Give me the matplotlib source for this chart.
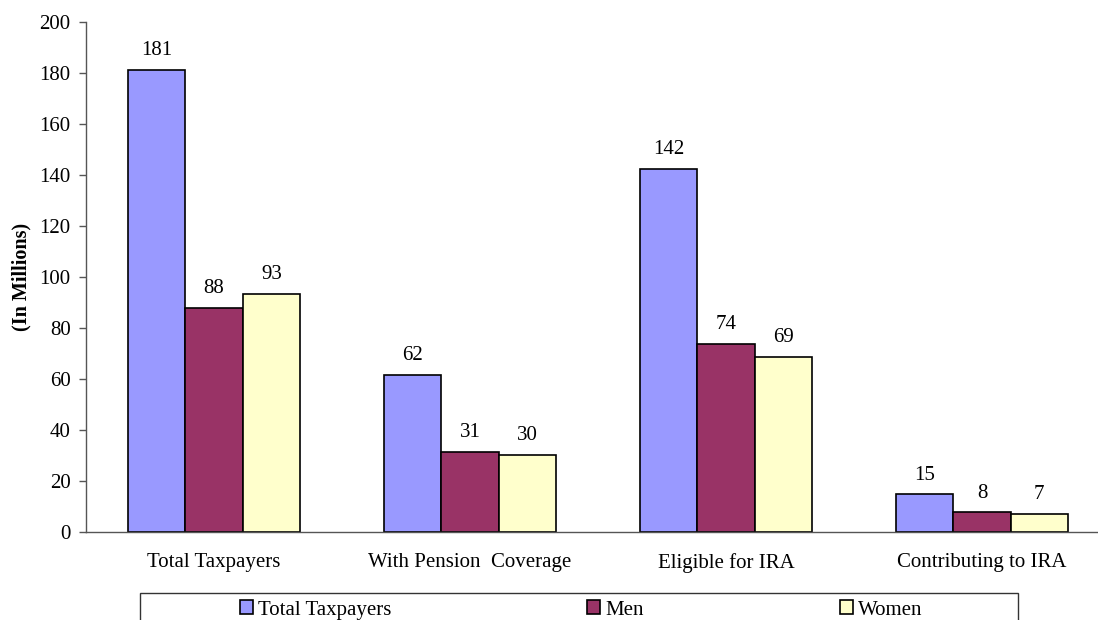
import matplotlib
matplotlib.use("Agg")
import matplotlib.pyplot as plt
from matplotlib.patches import Rectangle
import numpy as np

categories = ["Total Taxpayers", "With Pension  Coverage", "Eligible for IRA", "Contributing to IRA"]
series_names = ["Total Taxpayers", "Men", "Women"]
total = [181.2, 61.6, 142.3, 14.8]
men = [87.9, 31.4, 73.7, 7.7]
women = [93.3, 30.2, 68.8, 7.1]
labels_total = ["181", "62", "142", "15"]
labels_men = ["88", "31", "74", "8"]
labels_women = ["93", "30", "69", "7"]
yticks = [0, 20, 40, 60, 80, 100, 120, 140, 160, 180, 200]

colors = ["#9999FF", "#993366", "#FFFFCC"]

plt.rcParams['font.family'] = ['Liberation Serif', 'DejaVu Serif']
fs = 15

fig = plt.figure(figsize=(10.98, 6.2), dpi=100)
# category slots are 256 px wide; the axis runs off the right edge as in the reference
ax = fig.add_axes([86/1098, 1-532/620, 1024/1098, (532-22)/620])

x = np.arange(len(categories))
w = 0.224
data = [total, men, women]
labs = [labels_total, labels_men, labels_women]
for i, (vals, col, name, lb) in enumerate(zip(data, colors, series_names, labs)):
    bars = ax.bar(x + (i-1)*w, vals, width=w, color=col, edgecolor="black", linewidth=1.2, label=name, zorder=3)
    for b, t in zip(bars, lb):
        ax.annotate(t, (b.get_x()+b.get_width()/2, b.get_height()), xytext=(0, 7),
                    textcoords="offset points", ha="center", va="bottom", fontsize=fs)

ax.set_xlim(-0.5, 3.5)
ax.set_ylim(0, 200)
ax.set_yticks(yticks)
ax.set_yticklabels([str(t) for t in yticks], fontsize=fs)
ax.set_xticks(x)
ax.set_xticklabels(categories, fontsize=fs)
ax.tick_params(axis="x", length=0, pad=15)
ax.tick_params(axis="y", length=5, width=1, direction="out", pad=6, color="#555555")
for s in ["top", "right"]:
    ax.spines[s].set_visible(False)
for s in ["left", "bottom"]:
    ax.spines[s].set_color("#555555")
    ax.spines[s].set_linewidth(1)
ax.spines["bottom"].set_zorder(4)
ax.set_ylabel("(In Millions)", fontsize=14.5, fontweight="bold", labelpad=6)

# legend
handles = [Rectangle((0, 0), 1, 1, facecolor=c, edgecolor="black", linewidth=1.2) for c in colors]
leg = fig.legend(handles, series_names, ncol=3, loc="center left", bbox_to_anchor=(240/1098, 1-610/620),
                 frameon=False, fontsize=fs, handlelength=0.62, handleheight=0.62, handletextpad=0.25,
                 columnspacing=9.4, borderpad=0, borderaxespad=0)
fig.patches.append(Rectangle((140/1098, -0.05), (1018-140)/1098, 0.05 + 1 - 593/620,
                             transform=fig.transFigure, fill=False, edgecolor="#333333", linewidth=1))

fig.savefig("out.png", dpi=100)
